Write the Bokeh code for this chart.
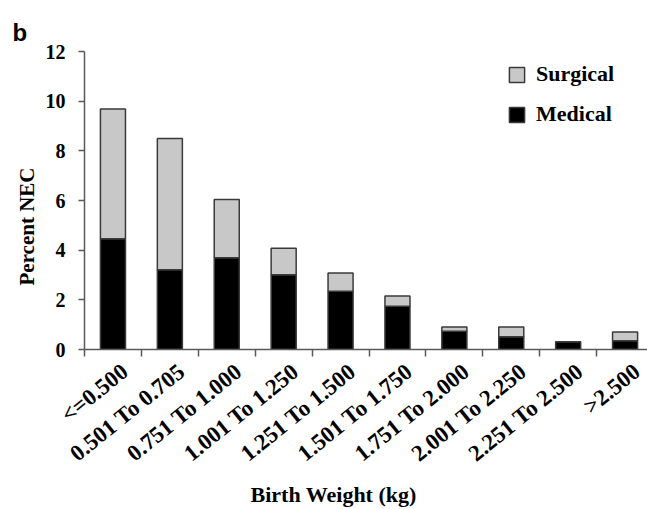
from bokeh.plotting import figure
from bokeh.models import ColumnDataSource, FixedTicker, Legend, LegendItem, Range1d, Title
from bokeh.embed import file_html
from bokeh.resources import INLINE

# ---- data ----
categories = ["<=0.500", "0.501 To 0.705", "0.751 To 1.000", "1.001 To 1.250",
              "1.251 To 1.500", "1.501 To 1.750", "1.751 To 2.000", "2.001 To 2.250",
              "2.251 To 2.500", ">2.500"]
medical = [4.46, 3.21, 3.69, 3.01, 2.35, 1.74, 0.73, 0.51, 0.31, 0.35]
surgical = [5.22, 5.29, 2.35, 1.07, 0.73, 0.41, 0.18, 0.40, 0.00, 0.35]
y_ticks = [0, 2, 4, 6, 8, 10, 12]

SERIF = "Liberation Serif"
SANS = "Liberation Sans"
AXIS_COLOR = "#5a5a5a"
EDGE = "#3a3a3a"

n = len(categories)
x = [i + 0.5 for i in range(n)]
total = [m + s for m, s in zip(medical, surgical)]
src = ColumnDataSource(dict(x=x, medical=medical, total=total))

p = figure(frame_width=563, frame_height=298,
           x_range=Range1d(0, 9.894), y_range=Range1d(0, 12),
           output_backend="svg", toolbar_location=None,
           min_border_left=84, min_border_top=51, min_border_right=0,
           min_border_bottom=160)
p.outline_line_color = None
p.xgrid.grid_line_color = None
p.ygrid.grid_line_color = None
p.background_fill_color = "white"
p.border_fill_color = "white"

r_m = p.vbar(x="x", bottom=0, top="medical", width=0.44, fill_color="black",
             line_color=EDGE, line_width=1.5, source=src)
r_s = p.vbar(x="x", bottom="medical", top="total", width=0.44, fill_color="#c8c8c8",
             line_color=EDGE, line_width=1.5, source=src)

# panel letter
p.title.text = "b"
p.title.align = "left"
p.title.vertical_align = "middle"
p.title.offset = -72
p.title.standoff = 10
p.title.text_font = SANS
p.title.text_font_style = "bold"
p.title.text_font_size = "24px"
p.title.text_color = "black"

# y axis
ya = p.yaxis[0]
ya.ticker = FixedTicker(ticks=y_ticks)
ya.minor_tick_line_color = None
ya.major_tick_out = 6
ya.major_tick_in = 0
ya.major_tick_line_color = AXIS_COLOR
ya.major_tick_line_width = 1.5
ya.axis_line_color = AXIS_COLOR
ya.axis_line_width = 1.5
ya.major_label_standoff = 13
ya.major_label_text_font = SERIF
ya.major_label_text_font_style = "bold"
ya.major_label_text_font_size = "20px"
ya.major_label_text_color = "black"

p.add_layout(Title(text="Percent NEC", align="left", offset=64, standoff=8,
                   text_font=SERIF, text_font_style="bold", text_font_size="21px",
                   text_color="black"), "left")

# x axis: labels near category centres, ticks at category boundaries
label_offset = 0.21
label_pos = [round(i + 0.5 + label_offset, 3) for i in range(n)]
boundaries = [float(i) for i in range(n)]
xa = p.xaxis[0]
xa.ticker = FixedTicker(ticks=label_pos, minor_ticks=boundaries)
xa.major_label_overrides = {pos: lab for pos, lab in zip(label_pos, categories)}
xa.major_tick_line_color = None
xa.major_tick_out = 0
xa.major_tick_in = 0
xa.minor_tick_out = 7
xa.minor_tick_in = 0
xa.minor_tick_line_color = AXIS_COLOR
xa.minor_tick_line_width = 1.5
xa.axis_line_color = AXIS_COLOR
xa.axis_line_width = 1.5
xa.major_label_orientation = 0.68
xa.major_label_standoff = 12
xa.major_label_text_font = SERIF
xa.major_label_text_font_style = "bold"
xa.major_label_text_font_size = "23px"
xa.major_label_text_color = "black"

p.add_layout(Title(text="Birth Weight (kg)", align="left", offset=166, standoff=2,
                   text_font=SERIF, text_font_style="bold", text_font_size="22px",
                   text_color="black"), "below")

legend = Legend(items=[LegendItem(label="Surgical", renderers=[r_s]),
                       LegendItem(label="Medical", renderers=[r_m])],
                location=(423, 222), padding=0, margin=0, spacing=14,
                glyph_width=19, glyph_height=19, label_height=24, label_standoff=10,
                label_text_font=SERIF, label_text_font_style="bold",
                label_text_font_size="22px", label_text_color="black",
                border_line_color=None, background_fill_alpha=0)
p.add_layout(legend)

open("out.html", "w").write(file_html(p, INLINE))
